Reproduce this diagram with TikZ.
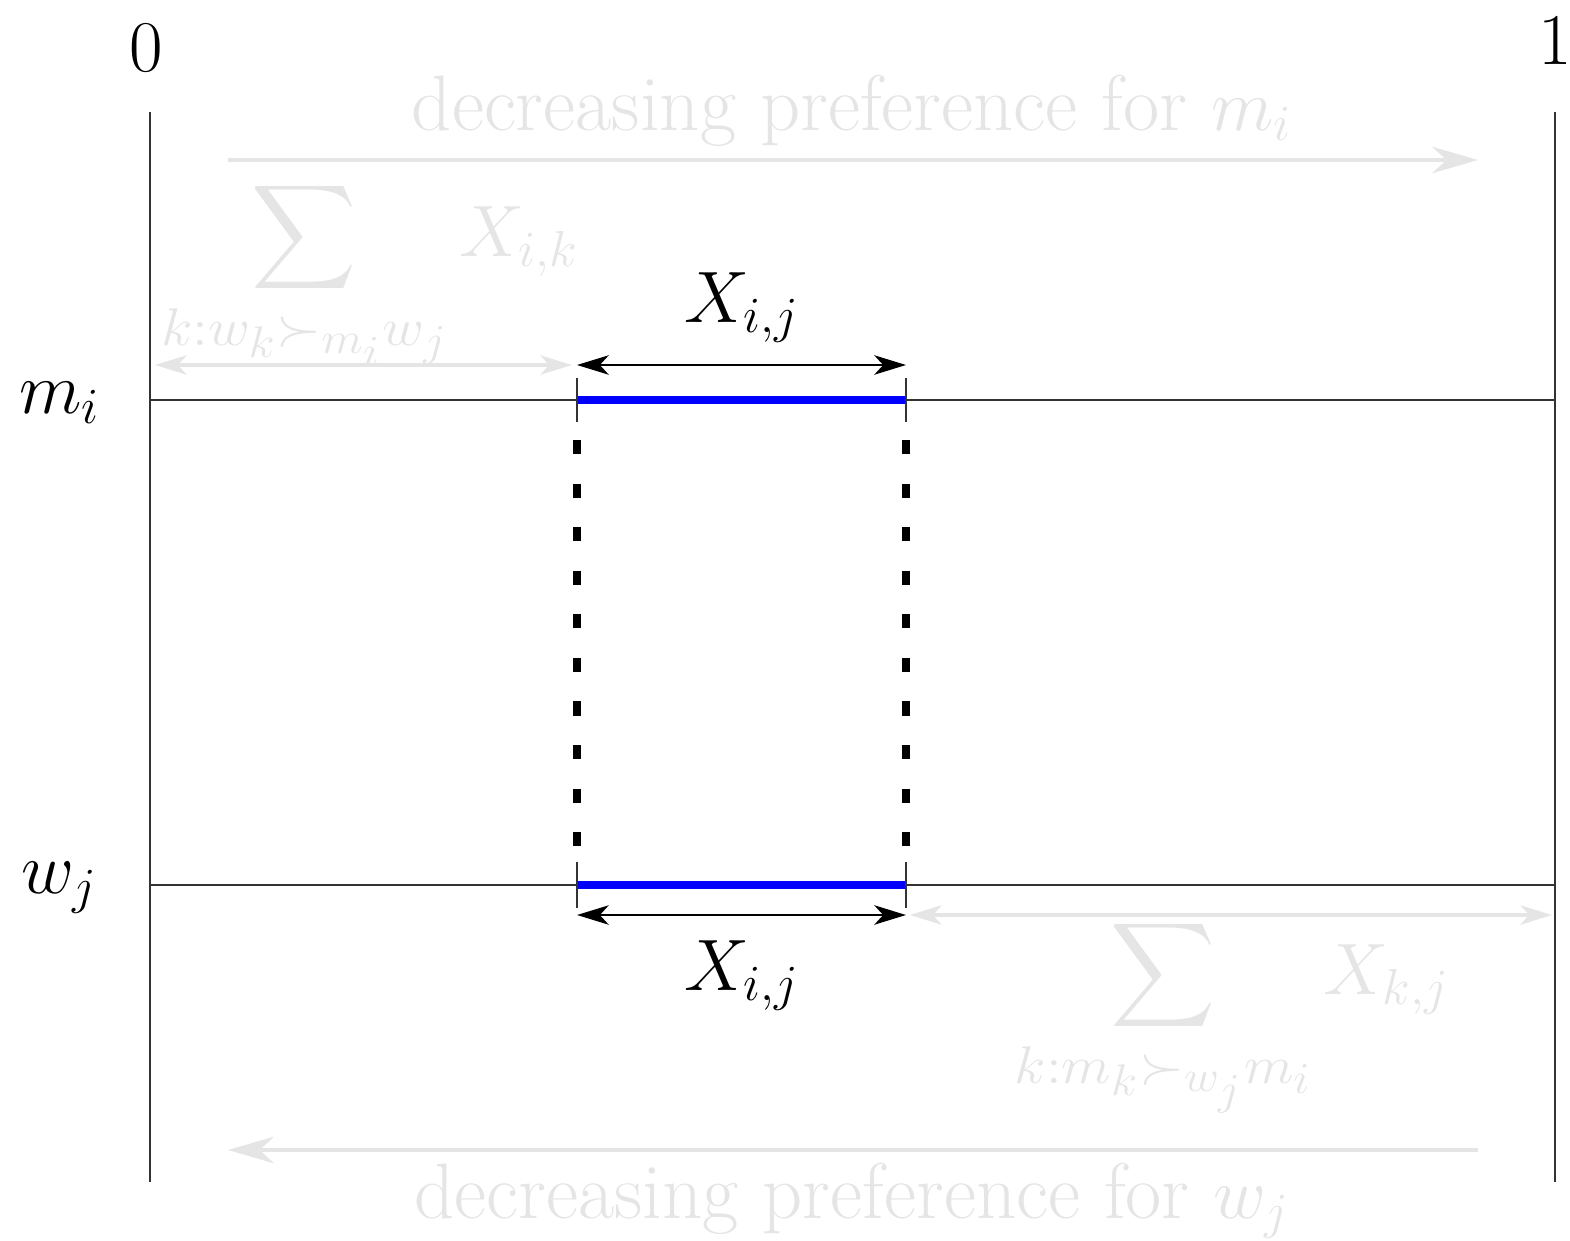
\documentclass[tikz,border=0pt]{standalone}
\usepackage{amsmath,amssymb}
\usepackage{graphicx}
\usetikzlibrary{arrows.meta}
\definecolor{faint}{gray}{0.9}
\definecolor{match}{RGB}{0,0,255}
\tikzset{
  axis/.style={draw=black!80, line width=0.55pt},
  tickmark/.style={draw=black!80, line width=0.45pt},
  matchbar/.style={draw=match, line width=2pt},
  link/.style={draw=black, line width=2.3pt, dash pattern=on 4pt off 8.4pt},
  span/.style={{Stealth[length=9pt,width=5.5pt,inset=2.5pt]}-{Stealth[length=9pt,width=5.5pt,inset=2.5pt]}, black, line width=0.8pt},
  faintspan/.style={{Stealth[length=9pt,width=5.5pt,inset=2.5pt]}-{Stealth[length=9pt,width=5.5pt,inset=2.5pt]}, faint, line width=0.9pt},
  prefarrow/.style={-{Stealth[length=13pt,width=7.5pt,inset=4pt]}, faint, line width=1.4pt},
  preftext/.style={anchor=base, text=faint, font=\fontsize{22.4}{27}\selectfont},
}
\newcommand{\sumrange}[1]{\scalebox{1.14}[1.05]{$\scriptstyle #1$}}

\begin{document}
\begin{tikzpicture}[font=\huge]
        \useasboundingbox (0,0) rectangle (15.70,-12.41);
        % ===================== axes =====================
        \coordinate (top0) at (1.50,-1.12);
        \coordinate (bot0) at (1.50,-11.82);
        \coordinate (top1) at (15.55,-1.12);
        \coordinate (bot1) at (15.55,-11.82);
        \coordinate (m0) at (1.50,-4.00);
        \coordinate (m1) at (15.55,-4.00);
        \coordinate (w0) at (1.50,-8.85);
        \coordinate (w1) at (15.55,-8.85);
        \draw[axis] (top0) -- (bot0);
        \draw[axis] (top1) -- (bot1);
        \draw[axis] (m0) -- (m1);
        \draw[axis] (w0) -- (w1);
        \node (zero) at (1.46,-0.48) {$0$};
        \node (one)  at (15.55,-0.41) {$1$};
        \node[anchor=base] (mi) at (0.60,-4.13) {$m_i$};
        \node[anchor=base] (wj) at (0.60,-8.93) {$w_j$};
        % ===================== matched interval =====================
        \coordinate (ma) at (5.77,-4.00);
        \coordinate (mb) at (9.06,-4.00);
        \coordinate (wa) at (5.77,-8.85);
        \coordinate (wb) at (9.06,-8.85);
        \draw[matchbar] (ma) -- (mb);
        \draw[matchbar] (wa) -- (wb);
        \draw[tickmark] ([yshift=0.22cm]ma) -- ([yshift=-0.22cm]ma);
        \draw[tickmark] ([yshift=0.22cm]mb) -- ([yshift=-0.22cm]mb);
        \draw[tickmark] ([yshift=0.23cm]wa) -- ([yshift=-0.23cm]wa);
        \draw[tickmark] ([yshift=0.23cm]wb) -- ([yshift=-0.23cm]wb);
        \draw[link] ([yshift=-0.40cm]ma) -- ([yshift=0.35cm]wa);
        \draw[link] ([yshift=-0.40cm]mb) -- ([yshift=0.35cm]wb);
        \draw[span] ([yshift=0.35cm]ma) -- ([yshift=0.35cm]mb);
        \draw[span] ([yshift=-0.30cm]wa) -- ([yshift=-0.30cm]wb);
        \node[anchor=base] (xtop) at (7.42,-3.22) {$X_{i,j}$};
        \node[anchor=base] (xbot) at (7.42,-9.90) {$X_{i,j}$};
        % ===================== preferred mass =====================
        \draw[faintspan] ([shift={(0.05cm,0.35cm)}]m0) -- ([shift={(-0.05cm,0.35cm)}]ma);
        \draw[faintspan] ([shift={(0.04cm,-0.30cm)}]wb) -- ([shift={(-0.03cm,-0.30cm)}]w1);
        \node[anchor=base, text=faint] (summ) at (3.70,-2.56)
          {$\displaystyle\sum_{\sumrange{k:w_k\succ_{m_i}w_j}} X_{i,k}$};
        \node[anchor=base, text=faint] (sumw) at (12.32,-9.94)
          {$\displaystyle\sum_{\sumrange{k:m_k\succ_{w_j}m_i}} X_{k,j}$};
        % ===================== preference direction =====================
        \coordinate (pm0) at (2.28,-1.60);
        \coordinate (pm1) at (14.78,-1.60);
        \coordinate (pw0) at (14.78,-11.50);
        \coordinate (pw1) at (2.28,-11.50);
        \draw[prefarrow] (pm0) -- (pm1);
        \draw[prefarrow] (pw0) -- (pw1);
        \node[preftext] (prefm) at (8.52,-1.30) {decreasing preference for $m_i$};
        \node[preftext] (prefw) at (8.52,-12.18) {decreasing preference for $w_j$};
\end{tikzpicture}
\end{document}
